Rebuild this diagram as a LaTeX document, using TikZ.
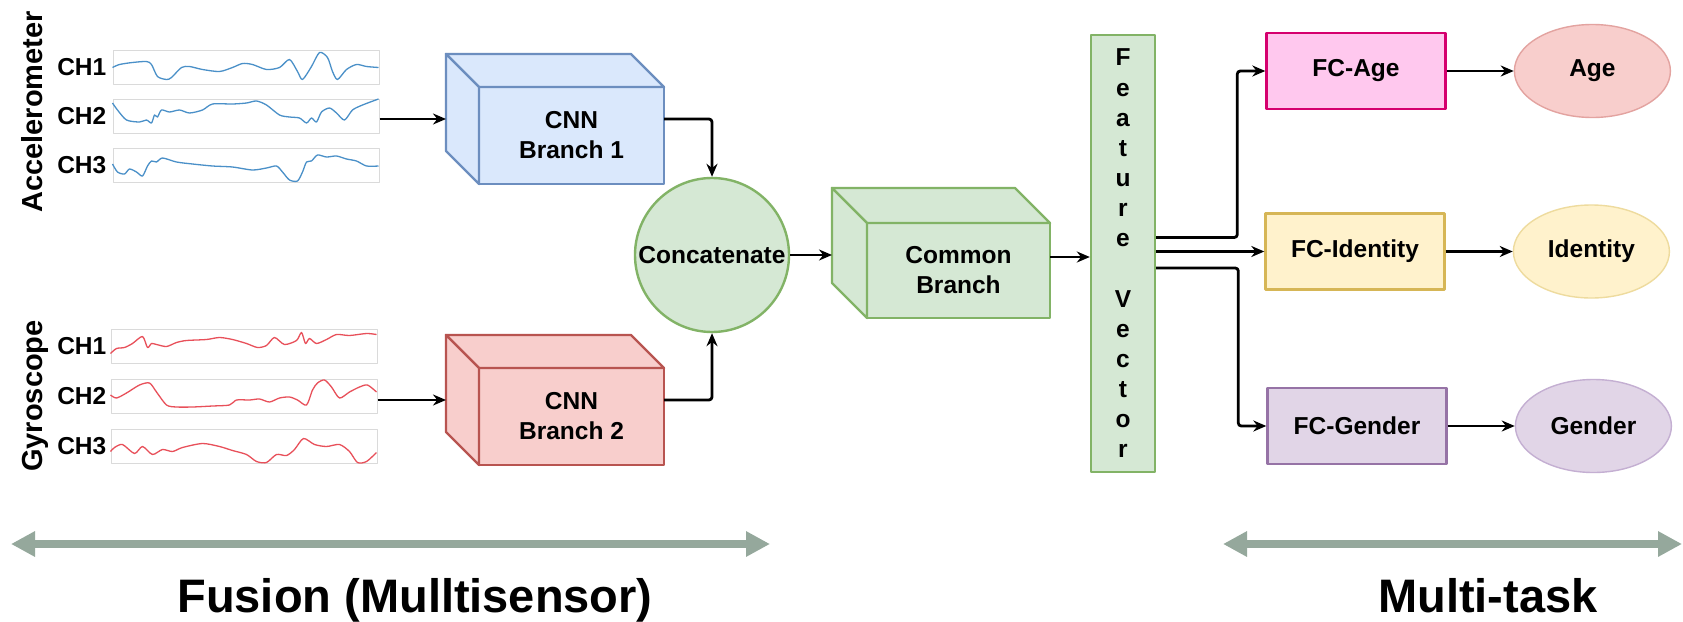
\documentclass[tikz,border=0pt]{standalone}
\usepackage{fontspec}
\setmainfont{Liberation Sans}
\usepackage{xcolor}
\usepackage{tikz}
\usetikzlibrary{arrows.meta,shapes,positioning}
\usetikzlibrary{shapes.geometric}
\usetikzlibrary{calc}

\definecolor{bluefill}{HTML}{DAE8FC}
\definecolor{blueline}{HTML}{6C8EBF}
\definecolor{redfill}{HTML}{F8CECC}
\definecolor{redline}{HTML}{B85450}
\definecolor{greenfill}{HTML}{D5E8D4}
\definecolor{greenline}{HTML}{82B366}
\definecolor{pinkfill}{HTML}{FFC8EE}
\definecolor{pinkline}{HTML}{D5006E}
\definecolor{yellowfill}{HTML}{FFF2CC}
\definecolor{yellowline}{HTML}{D6B656}
\definecolor{purplefill}{HTML}{E1D5E7}
\definecolor{purpleline}{HTML}{9673A6}
\definecolor{agefill}{HTML}{F8CECC}
\definecolor{ageline}{HTML}{E3A3A0}
\definecolor{idline}{HTML}{EEDB9E}
\definecolor{genderline}{HTML}{C4AFD2}
\definecolor{accwave}{HTML}{4A90C8}
\definecolor{gyrowave}{HTML}{E8505A}
\definecolor{sigframe}{HTML}{DADADA}
\definecolor{spanarrow}{HTML}{95A89C}

\tikzset{
  cubeface/.style={draw, line width=2.4pt, minimum width=185pt, minimum height=97pt, inner sep=0pt, outer sep=0pt, align=center},
  fcbox/.style={draw, line width=2.4pt, minimum width=179pt, minimum height=76pt, inner sep=0pt},
  outnode/.style={ellipse, draw, line width=1.4pt, minimum width=156pt, minimum height=93pt, inner sep=0pt},
  sigbox/.style={draw=sigframe, line width=1pt, fill=white, minimum width=266pt, minimum height=34pt, inner sep=0pt},
  chlabel/.style={inner sep=0pt},
  sensorlabel/.style={rotate=90, anchor=base, font=\fontsize{29}{30}\selectfont\bfseries},
  wave/.style={line width=1.3pt, smooth, tension=0.45},
  conn/.style={->, line width=2.8pt, rounded corners=3pt},
  span/.style={{Triangle[length=24pt,width=24pt]}-{Triangle[length=24pt,width=24pt]}, line width=8pt, draw=spanarrow},
  bigtext/.style={anchor=base, font=\fontsize{47}{50}\selectfont\bfseries}
}

\newcommand{\cubeback}[4]{%
  \filldraw[fill=#2, draw=#3, line width=2.4pt, line join=round] (#1.north west) -- ++(-#4,-#4) -- ($(#1.north east)+(-#4,-#4)$) -- (#1.north east) -- cycle;
  \filldraw[fill=#2, draw=#3, line width=2.4pt, line join=round] (#1.north west) -- ++(-#4,-#4) -- ($(#1.south west)+(-#4,-#4)$) -- (#1.south west) -- cycle;}

\begin{document}
\begin{tikzpicture}[x=1pt, y=-1pt, font=\fontsize{24.5}{30}\selectfont\bfseries, line join=round,
  >={Stealth[length=13pt,width=11pt]}, node distance=67pt]
  \useasboundingbox (0,0) rectangle (1683,621);
  \fill[white] (0,0) rectangle (1683,621);

  % sensors
  \node[sensorlabel] (accel) at (42,112) {Accelerometer};
  \node[sensorlabel] (gyro) at (42,396) {Gyroscope};

  \node[sigbox] (acc1) at (246,67) {};
  \node[sigbox] (acc2) at (246,116.5) {};
  \node[sigbox] (acc3) at (246,165.5) {};
  \node[sigbox] (gyr1) at (244,346) {};
  \node[sigbox] (gyr2) at (244,396.5) {};
  \node[sigbox] (gyr3) at (244,446) {};

  \node[chlabel, left=6pt of acc1] (lacc1) {CH1};
  \node[chlabel, left=6pt of acc2] (lacc2) {CH2};
  \node[chlabel, left=6pt of acc3] (lacc3) {CH3};
  \node[chlabel, left=4pt of gyr1] (lgyr1) {CH1};
  \node[chlabel, left=4pt of gyr2] (lgyr2) {CH2};
  \node[chlabel, left=4pt of gyr3] (lgyr3) {CH3};

  \draw[accwave, wave, shift={(acc1.north west)}] plot coordinates {(0,18) (7,15) (20,13) (34,12) (39,15) (45,27) (54,30) (59,28) (69,18) (77,17) (90,20) (107,22) (120,18) (130,14) (140,15) (154,20) (167,18) (177,10) (185,22) (190,30) (199,17) (207,3) (215,8) (220,22) (225,30) (234,20) (244,15) (254,17) (266,18)};
  \draw[accwave, wave, shift={(acc2.north west)}] plot coordinates {(0,4) (5,11) (14,21) (27,23) (34,21) (39,24) (42,16) (45,18) (49,11) (57,13) (67,11) (77,14) (90,11) (100,5) (120,5) (134,4) (144,2) (154,6) (167,16) (177,18) (187,19) (194,24) (199,19) (204,23) (209,13) (217,9) (224,14) (232,21) (240,11) (250,6) (266,0)};
  \draw[accwave, wave, shift={(acc3.north west)}] plot coordinates {(0,16) (5,24) (12,26) (17,21) (24,24) (30,28) (35,18) (39,13) (44,14) (50,10) (64,14) (80,16) (100,18) (120,19) (140,22) (154,20) (164,18) (170,24) (177,32) (185,33) (190,24) (194,14) (199,13) (205,7) (214,9) (224,8) (234,11) (244,13) (254,18) (266,18)};
  \draw[gyrowave, wave, shift={(gyr1.north west)}] plot coordinates {(0,25) (6,20) (14,19) (22,15) (32,8) (37,19) (41,15) (46,16) (56,18) (66,14) (76,12) (96,11) (109,9) (122,11) (136,15) (147,19) (156,17) (164,9) (174,16) (186,12) (191,4) (195,15) (199,10) (206,15) (216,11) (226,6) (239,7) (256,5) (266,6)};
  \draw[gyrowave, wave, shift={(gyr2.north west)}] plot coordinates {(0,16) (6,19) (16,14) (29,6) (39,4) (46,13) (56,26) (66,28) (82,28) (102,27) (119,26) (126,21) (139,21) (149,20) (159,23) (169,19) (179,18) (187,21) (196,26) (202,11) (207,4) (214,1) (221,8) (229,19) (239,13) (249,8) (257,6) (266,13)};
  \draw[gyrowave, wave, shift={(gyr3.north west)}] plot coordinates {(0,23) (4,19) (12,16) (24,25) (32,18) (42,26) (52,21) (62,23) (72,19) (92,15) (109,18) (122,22) (136,26) (146,33) (156,34) (166,26) (176,27) (184,21) (193,10) (204,16) (216,18) (229,16) (239,23) (247,34) (256,33) (266,24)};

  % fusion part
  \node[cubeface, fill=bluefill, draw=blueline] (cnn1) at (571.5,135.5) {CNN\\Branch 1};
  \cubeback{cnn1}{bluefill}{blueline}{33}
  \node[cubeface, fill=redfill, draw=redline] (cnn2) at (571.5,416.5) {CNN\\Branch 2};
  \cubeback{cnn2}{redfill}{redline}{33}
  \node[circle, draw=greenline, fill=greenfill, line width=2.4pt, minimum size=154pt, inner sep=0pt] (concat) at (712,255) {Concatenate};
  \node[cubeface, fill=greenfill, draw=greenline, minimum width=183pt, minimum height=95pt] (common) at (958.5,270.5) {Common\\Branch};
  \cubeback{common}{greenfill}{greenline}{35}
  \node[draw=greenline, fill=greenfill, line width=2.4pt, minimum width=64pt, minimum height=437pt, inner sep=0pt, align=center,
    font=\fontsize{24.5}{30.15}\selectfont\bfseries] (fv) at (1123,253.5) {F\\e\\a\\t\\u\\r\\e\\\mbox{}\\V\\e\\c\\t\\o\\r};

  \coordinate (cnn1in) at ($(cnn1.west)+(-33,-16.5)$);
  \coordinate (cnn2in) at ($(cnn2.west)+(-33,-16.5)$);
  \coordinate (commonin) at ($(common.west)+(-35,0)$);
  \coordinate (commonout) at ([yshift=13.5pt]common.east);
  \draw[conn] (acc2.east |- cnn1in) -- (cnn1in);
  \draw[conn] (gyr2.east |- cnn2in) -- (cnn2in);
  \draw[conn] ([yshift=16.5pt]cnn1.east) -| (concat.north);
  \draw[conn] ([yshift=16.5pt]cnn2.east) -| (concat.south);
  \draw[conn] (concat.east) -- (concat.east -| commonin);
  \draw[conn] (commonout) -- (commonout -| fv.west);

  % multi-task part
  \node[fcbox, fill=pinkfill, draw=pinkline] (fcage) at (1356,71) {FC-Age};
  \node[fcbox, fill=yellowfill, draw=yellowline] (fcid) at (1355,251.5) {FC-Identity};
  \node[fcbox, fill=purplefill, draw=purpleline] (fcgender) at (1357,426) {FC-Gender};
  \node[outnode, fill=agefill, draw=ageline, right=of fcage] (age) {Age};
  \node[outnode, fill=yellowfill, draw=idline, right=of fcid] (identity) {Identity};
  \node[outnode, fill=purplefill, draw=genderline, right=of fcgender] (gender) {Gender};

  \draw[conn] ([yshift=16pt]fv.east) -| ([xshift=-28pt]fcage.west) -- (fcage.west);
  \draw[conn] (fv.east |- fcid.west) -- (fcid.west);
  \draw[conn] ([yshift=-14.5pt]fv.east) -| ([xshift=-28pt]fcgender.west) -- (fcgender.west);
  \draw[conn] (fcage) -- (age);
  \draw[conn] (fcid) -- (identity);
  \draw[conn] (fcgender) -- (gender);

  % spans
  \coordinate (fusionL) at (11,544);
  \coordinate (fusionR) at (770,544);
  \coordinate (taskL) at (1223,544);
  \coordinate (taskR) at (1682,544);
  \draw[span] (fusionL) -- (fusionR);
  \draw[span] (taskL) -- (taskR);
  \node[bigtext] (fusion) at (415,612) {Fusion (Mulltisensor)};
  \node[bigtext] (multitask) at (1488,612) {Multi-task};
\end{tikzpicture}
\end{document}
